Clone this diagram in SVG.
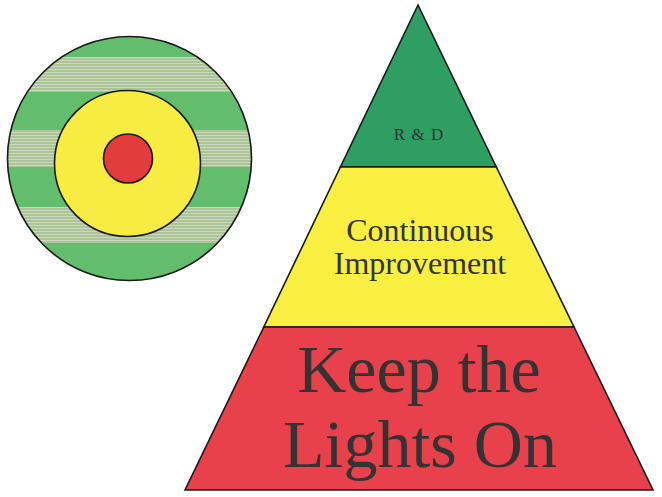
<svg xmlns="http://www.w3.org/2000/svg" width="662" height="497" viewBox="0 0 662 497">
  <style>
    .outline { stroke: #1a1a1a; stroke-width: 1.6; }
    .label { font-family: "Liberation Serif", "Times New Roman", serif; fill: #333333; text-anchor: middle; }
  </style>
  <defs>
    <clipPath id="outerClip">
      <circle cx="129.5" cy="158.5" r="122"/>
    </clipPath>
    <pattern id="lightStripe" width="6" height="3" patternUnits="userSpaceOnUse">
      <rect width="6" height="3" fill="#acc598"/>
      <rect y="0" width="6" height="1" fill="#ccd8c0"/>
    </pattern>
  </defs>
  <rect width="662" height="497" fill="#ffffff"/>

  <g id="target">
    <g clip-path="url(#outerClip)">
      <rect x="0" y="30" width="260" height="260" fill="#62bd6c"/>
      <rect x="0" y="57" width="260" height="35" fill="url(#lightStripe)"/>
      <rect x="0" y="130" width="260" height="37" fill="url(#lightStripe)"/>
      <rect x="0" y="207" width="260" height="36" fill="url(#lightStripe)"/>
    </g>
    <circle class="outline" cx="129.5" cy="158.5" r="122" fill="none"/>
    <circle class="outline" cx="127.5" cy="163.5" r="73" fill="#f7ec42"/>
    <circle class="outline" cx="128" cy="158.5" r="24.5" fill="#e23c3c"/>
  </g>

  <g id="rd">
    <polygon class="outline" points="418,5 496.3,167 340.4,167" fill="#2f9e62"/>
    <text class="label" x="419" y="140" font-size="17" letter-spacing="1">R &amp; D</text>
  </g>

  <g id="continuous-improvement">
    <polygon class="outline" points="340.4,167 496.3,167 574,327 263.8,327" fill="#f8ef40"/>
    <text class="label" x="420" y="241" font-size="32">Continuous</text>
    <text class="label" x="420" y="274" font-size="32">Improvement</text>
  </g>

  <g id="keep-lights-on">
    <polygon class="outline" points="263.8,327 574,327 653,490 185,490" fill="#e8414b"/>
    <text class="label" x="419" y="392" font-size="68">Keep the</text>
    <text class="label" x="420" y="467" font-size="68">Lights On</text>
  </g>

  <g id="connectors"/>
</svg>
